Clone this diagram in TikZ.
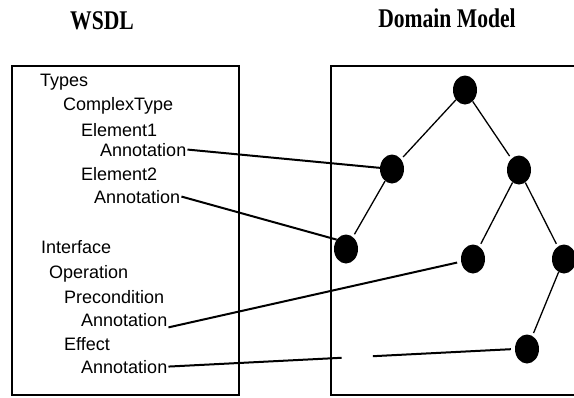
\documentclass[tikz,border=0pt]{standalone}
\usepackage{fontspec}
\setsansfont{Liberation Sans}
\newfontfamily\titlefont{Liberation Serif}[FakeStretch=0.8]
\usepackage{tikz}
\usetikzlibrary{calc,shapes.geometric}

\begin{document}
\begin{tikzpicture}[
  x=1pt, y=-1pt,
  dm/.style={ellipse, fill=black, draw=none, minimum width=24pt, minimum height=29pt, inner sep=0pt},
  ws/.style={anchor=base west, inner sep=1pt, font=\sffamily\fontsize{18}{18}\selectfont},
  ttl/.style={anchor=base, inner sep=0pt, font=\titlefont\bfseries\fontsize{27}{27}\selectfont},
  link/.style={line width=2pt},
  tedge/.style={line width=1.3pt, shorten >=3pt}
]
\useasboundingbox (0,0) rectangle (574,397);
\clip (0,0) rectangle (574,397);

% Titles
\node[ttl] (wsdl) at (102,29.5) {WSDL};
\node[ttl] (dmodel) at (447,27) {Domain Model};

% Frames
\draw[line width=2pt] (12,66) rectangle (239,395);
\draw[line width=2pt] (590,66) -- (331,66) -- (331,395) -- (590,395);

% WSDL: types
\node[ws] (types) at (39,86) {Types};
\node[ws] (ctype) at (62,110) {ComplexType};
\node[ws] (el1) at (80,136) {Element1};
\node[ws] (ann1) at (99,156) {Annotation};
\node[ws] (el2) at (80,180) {Element2};
\node[ws] (ann2) at (93,203) {Annotation};
% WSDL: interface
\node[ws] (iface) at (40,253) {Interface};
\node[ws] (oper) at (48,278) {Operation};
\node[ws] (pre) at (63,303) {Precondition};
\node[ws] (ann3) at (80,326) {Annotation};
\node[ws] (eff) at (63,350) {Effect};
\node[ws] (ann4) at (80,373) {Annotation};

% Domain model tree
\node[dm] (n0) at (465,90) {};
\node[dm] (n1) at (392,169) {};
\node[dm] (n2) at (519,170) {};
\node[dm] (n3) at (346,249) {};
\node[dm] (n4) at (473,259) {};
\node[dm] (n5) at (564,259) {};
\node[dm] (n6) at (527,349) {};
\draw[tedge] (n0) -- (n1);
\draw[tedge] (n0) -- (n2);
\draw[tedge] (n1) -- (n3);
\draw[tedge] (n2) -- (n4);
\draw[tedge] (n2) -- (n5);
\draw[tedge] (n5) -- (n6);

% Annotation links
\draw[link] (ann1.east) -- (n1);
\draw[link] (ann2.east) -- (n3.135);
\draw[link, shorten >=4pt] (ann3.south east) -- (n4);
\draw[link] (ann4.east) -- ($(ann4.east)!0.5!(n6.west)$);
\draw[link, shorten >=4pt] ($(ann4.east)!0.59!(n6.west)$) -- (n6.west);
\end{tikzpicture}
\end{document}
